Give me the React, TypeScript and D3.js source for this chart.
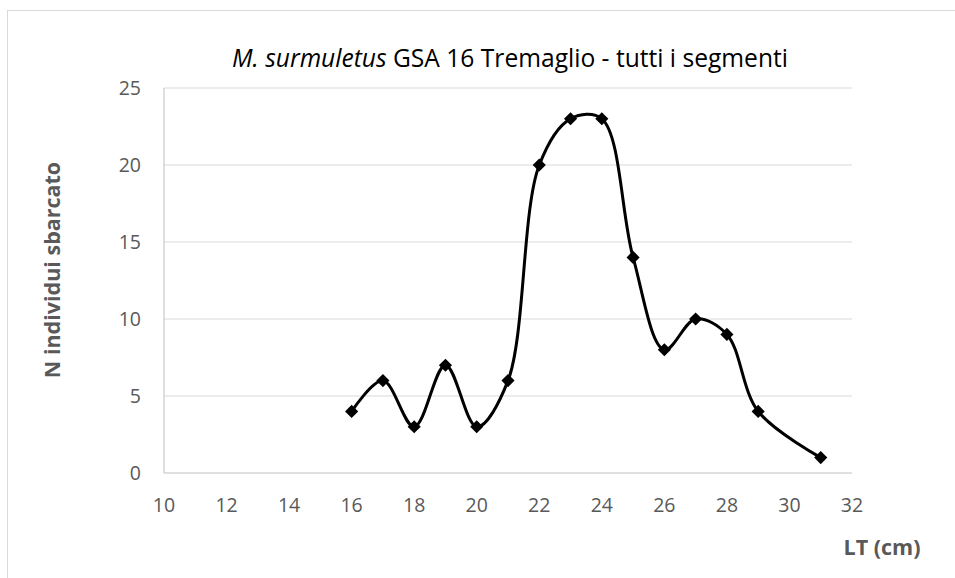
import React from "react";
import * as d3 from "d3";

const lengths = [16, 17, 18, 19, 20, 21, 22, 23, 24, 25, 26, 27, 28, 29, 31];
const counts = [4, 6, 3, 7, 3, 6, 20, 23, 23, 14, 8, 10, 9, 4, 1];
const xTicks = [10, 12, 14, 16, 18, 20, 22, 24, 26, 28, 30, 32];
const yTicks = [0, 5, 10, 15, 20, 25];

const FONT = "'Open Sans', 'Liberation Sans', sans-serif";

export default function App() {
  const W = 955, H = 578;
  const left = 164, right = 852, top = 88, bottom = 473;
  const x = d3.scaleLinear().domain([10, 32]).range([left, right]);
  const y = d3.scaleLinear().domain([0, 25]).range([bottom, top]);
  const pts = lengths.map((l, i) => [l, counts[i]] as [number, number]);
  const line = d3
    .line<[number, number]>()
    .x((d) => x(d[0]))
    .y((d) => y(d[1]))
    .curve(d3.curveCatmullRom.alpha(0.5));
  const diamond = d3.symbol(d3.symbolDiamond2, 110)() as string;
  return (
    <svg width={W} height={H} style={{ position: "absolute", left: 0, top: 0 }}>
      <rect x={0} y={0} width={W} height={H} fill="#fff" />
      <rect x={7.5} y={10.5} width={W} height={H} fill="none" stroke="#d9d9d9" strokeWidth={1} />
      {yTicks.map((t) => (
        <g key={t}>
          <line x1={left} x2={right} y1={y(t)} y2={y(t)} stroke={t === 0 ? "#bfbfbf" : "#d9d9d9"} strokeWidth={1} />
          <text x={141} y={y(t)} dy="0.36em" textAnchor="end" fontSize={19.5} fill="#595959" fontFamily={FONT}>
            {t}
          </text>
        </g>
      ))}
      <line x1={left} x2={left} y1={top} y2={bottom} stroke="#bfbfbf" strokeWidth={1} />
      {xTicks.map((t) => (
        <text key={t} x={x(t)} y={505} dy="0.36em" textAnchor="middle" fontSize={19.5} fill="#595959" fontFamily={FONT}>
          {t}
        </text>
      ))}
      <path d={line(pts) as string} fill="none" stroke="#000" strokeWidth={3} />
      {pts.map((p, i) => (
        <path key={i} d={diamond} transform={`translate(${x(p[0])},${y(p[1])})`} fill="#000" />
      ))}
      <text x={510} y={58} dy="0.36em" textAnchor="middle" fontSize={24.6} fill="#000" fontFamily={FONT}>
        <tspan fontStyle="italic">M. surmuletus</tspan> GSA 16 Tremaglio - tutti i segmenti
      </text>
      <text
        transform="translate(52,270) rotate(-90)"
        textAnchor="middle"
        dy="0.36em"
        fontSize={21.5}
        fontWeight="bold"
        fill="#595959"
        fontFamily={FONT}
      >
        N individui sbarcato
      </text>
      <text x={882} y={547} dy="0.36em" textAnchor="middle" fontSize={21.5} fontWeight="bold" fill="#595959" fontFamily={FONT}>
        LT (cm)
      </text>
    </svg>
  );
}
